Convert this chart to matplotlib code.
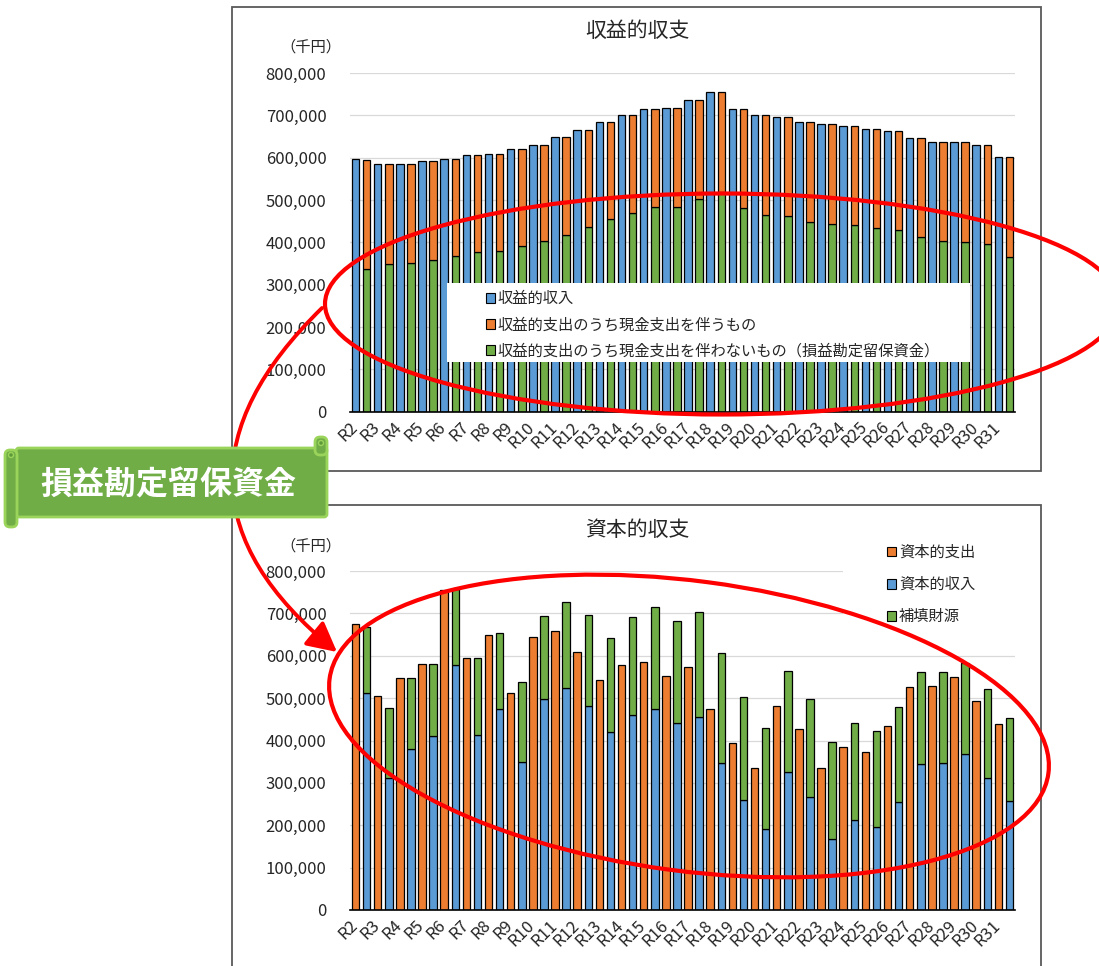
import matplotlib
matplotlib.use('Agg')
import matplotlib.pyplot as plt
import numpy as np
from matplotlib.patches import Rectangle, Ellipse, FancyBboxPatch, Circle, Patch, FancyArrowPatch
from matplotlib.ticker import FuncFormatter

plt.rcParams['font.family'] = ['Noto Sans CJK JP', 'DejaVu Sans']

years = ['R2', 'R3', 'R4', 'R5', 'R6', 'R7', 'R8', 'R9', 'R10', 'R11',
         'R12', 'R13', 'R14', 'R15', 'R16', 'R17', 'R18', 'R19', 'R20', 'R21',
         'R22', 'R23', 'R24', 'R25', 'R26', 'R27', 'R28', 'R29', 'R30', 'R31']

# 収益的収支 (千円)
rev_income = [598000, 586000, 586000, 591000, 597000, 607000, 608000, 620000, 631000, 648000,
              665000, 684000, 700000, 715000, 717000, 737000, 754000, 715000, 700000, 697000,
              684000, 679000, 675000, 668000, 662000, 647000, 637000, 636000, 630000, 601000]
rev_cash = [258000, 238000, 234000, 232000, 230000, 230000, 229000, 229000, 228000, 230000,
            229000, 230000, 230000, 231000, 233000, 235000, 235000, 235000, 235000, 234000,
            236000, 235000, 235000, 235000, 233000, 234000, 233000, 235000, 234000, 235000]
rev_noncash = [337000, 348000, 352000, 359000, 367000, 377000, 379000, 391000, 403000, 418000,
               436000, 454000, 470000, 484000, 484000, 502000, 519000, 480000, 465000, 463000,
               448000, 444000, 440000, 433000, 429000, 413000, 404000, 401000, 396000, 366000]

# 資本的収支 (千円)
cap_exp = [674000, 506000, 548000, 581000, 754000, 594000, 650000, 512000, 644000, 658000,
           610000, 542000, 579000, 585000, 552000, 573000, 474000, 395000, 334000, 481000,
           428000, 334000, 384000, 374000, 434000, 527000, 529000, 551000, 493000, 438000]
cap_inc = [511000, 312000, 380000, 411000, 579000, 414000, 474000, 350000, 499000, 523000,
           482000, 419000, 460000, 475000, 442000, 455000, 347000, 260000, 191000, 326000,
           267000, 167000, 212000, 196000, 254000, 345000, 346000, 368000, 311000, 257000]
cap_fill = [158000, 165000, 167000, 170000, 178000, 180000, 180000, 189000, 195000, 205000,
            213000, 223000, 231000, 239000, 239000, 249000, 260000, 243000, 238000, 238000,
            230000, 230000, 229000, 226000, 224000, 217000, 215000, 214000, 211000, 195000]

BLUE = '#5B9BD5'
ORANGE = '#ED7D31'
GREEN = '#70AD47'
TXT = '#262626'

W, H = 1099, 966
fig = plt.figure(figsize=(W / 100, H / 100), dpi=100)


def px_axes(x0, y0, x1, y1, **kw):
    return fig.add_axes([x0 / W, 1 - y1 / H, (x1 - x0) / W, (y1 - y0) / H], **kw)


def style(ax):
    ax.set_xlim(-0.5, 29.5)
    ax.set_ylim(0, 800000)
    ax.set_yticks(range(0, 800001, 100000))
    ax.yaxis.set_major_formatter(FuncFormatter(lambda v, p: f'{int(v):,}'))
    ax.set_xticks(np.arange(len(years)))
    ax.set_xticklabels(years, rotation=45, ha='right', va='top')
    ax.tick_params(axis='y', length=0, pad=17, labelsize=12, labelcolor=TXT)
    ax.tick_params(axis='x', length=0, pad=5, labelsize=12, labelcolor=TXT)
    for s in ['top', 'right', 'left']:
        ax.spines[s].set_visible(False)
    ax.spines['bottom'].set_color('black')
    ax.spines['bottom'].set_linewidth(1.2)
    ax.grid(axis='y', color='#D9D9D9', lw=0.9)
    ax.set_axisbelow(True)


x = np.arange(len(years))
bw = 0.34
bar_kw = dict(edgecolor='black', linewidth=0.9)

# top chart
ax1 = px_axes(350, 73, 1015, 411.7)
ax1.bar(x - 0.25, rev_income, bw, color=BLUE, **bar_kw)
ax1.bar(x + 0.25, rev_noncash, bw, color=GREEN, **bar_kw)
ax1.bar(x + 0.25, rev_cash, bw, bottom=rev_noncash, color=ORANGE, **bar_kw)
style(ax1)
ax1.add_patch(Rectangle((0.146, 0.147), 0.786, 0.233, transform=ax1.transAxes,
                        facecolor='white', edgecolor='none', zorder=3))
h1 = [Patch(facecolor=BLUE, edgecolor='black', lw=0.8),
      Patch(facecolor=ORANGE, edgecolor='black', lw=0.8),
      Patch(facecolor=GREEN, edgecolor='black', lw=0.8)]
lab1 = ['収益的収入', '収益的支出のうち現金支出を伴うもの',
        '収益的支出のうち現金支出を伴わないもの（損益勘定留保資金）']
leg1 = ax1.legend(h1, lab1, loc='upper left', bbox_to_anchor=(0.204, 0.359),
                  frameon=False, fontsize=11, handlelength=0.6, handleheight=0.6,
                  handletextpad=0.2, labelspacing=0.6, borderpad=0, borderaxespad=0)
leg1.set_zorder(5)
for t in leg1.get_texts():
    t.set_color(TXT)

# bottom chart
ax2 = px_axes(350, 571, 1015, 910)
ax2.bar(x - 0.25, cap_exp, bw, color=ORANGE, **bar_kw)
ax2.bar(x + 0.25, cap_inc, bw, color=BLUE, **bar_kw)
ax2.bar(x + 0.25, cap_fill, bw, bottom=cap_inc, color=GREEN, **bar_kw)
style(ax2)
ax2.add_patch(Rectangle((0.741, 0.8), 0.259, 0.31, transform=ax2.transAxes,
                        facecolor='white', edgecolor='none', zorder=3, clip_on=False))
h2 = [Patch(facecolor=ORANGE, edgecolor='black', lw=0.8),
      Patch(facecolor=BLUE, edgecolor='black', lw=0.8),
      Patch(facecolor=GREEN, edgecolor='black', lw=0.8)]
lab2 = ['資本的支出', '資本的収入', '補填財源']
leg2 = ax2.legend(h2, lab2, loc='upper left', bbox_to_anchor=(0.807, 1.08),
                  frameon=False, fontsize=11, handlelength=0.6, handleheight=0.6,
                  handletextpad=0.2, labelspacing=1.0, borderpad=0, borderaxespad=0)
leg2.set_zorder(5)
for t in leg2.get_texts():
    t.set_color(TXT)

# overlay in pixel coordinates
ov = fig.add_axes([0, 0, 1, 1], zorder=10)
ov.set_xlim(0, W)
ov.set_ylim(H, 0)
ov.axis('off')
ov.patch.set_alpha(0)

ov.add_patch(Rectangle((232, 7), 809, 464, fill=False, ec='#595959', lw=1.3, zorder=1))
ov.add_patch(Rectangle((232, 505), 809, 470, fill=False, ec='#595959', lw=1.3, zorder=1))
ov.text(637, 31, '収益的収支', ha='center', va='center', fontsize=15, color=TXT)
ov.text(637, 530, '資本的収支', ha='center', va='center', fontsize=15, color=TXT)
ov.text(311, 47, '（千円）', ha='center', va='center', fontsize=11, color=TXT)
ov.text(311, 546, '（千円）', ha='center', va='center', fontsize=11, color=TXT)

# red highlights
ov.add_patch(Ellipse((722, 304), 794, 221, angle=0, fill=False, ec='red', lw=3, zorder=4))
ov.add_patch(Ellipse((689, 726), 725, 290, angle=7.5, fill=False, ec='red', lw=3, zorder=4))
ov.add_patch(FancyArrowPatch((322, 308), (337, 652), connectionstyle='arc3,rad=0.56',
                             arrowstyle='-|>,head_length=1.0,head_width=0.52',
                             mutation_scale=18, lw=2.8, color='red',
                             shrinkA=0, shrinkB=0, zorder=4))

# ribbon label
RIB_EC = '#9BD45A'
ov.add_patch(FancyBboxPatch((16, 448), 311, 69, boxstyle='round,pad=0,rounding_size=3',
                            fc=GREEN, ec=RIB_EC, lw=2, zorder=8))
ov.add_patch(FancyBboxPatch((5, 450), 12, 77, boxstyle='round,pad=0,rounding_size=5',
                            fc=GREEN, ec=RIB_EC, lw=2, zorder=9))
ov.add_patch(FancyBboxPatch((315, 437), 12, 18, boxstyle='round,pad=0,rounding_size=5',
                            fc=GREEN, ec=RIB_EC, lw=2, zorder=9))
ov.add_patch(Circle((11, 455), 2.5, fc='#5E9A3A', ec=RIB_EC, lw=1, zorder=10))
ov.add_patch(Circle((321, 443), 2.5, fc='#5E9A3A', ec=RIB_EC, lw=1, zorder=10))
ov.text(168, 486, '損益勘定留保資金', color='white', fontsize=23, fontweight='bold',
        ha='center', va='center', zorder=11)

fig.savefig('out.png', dpi=100)
